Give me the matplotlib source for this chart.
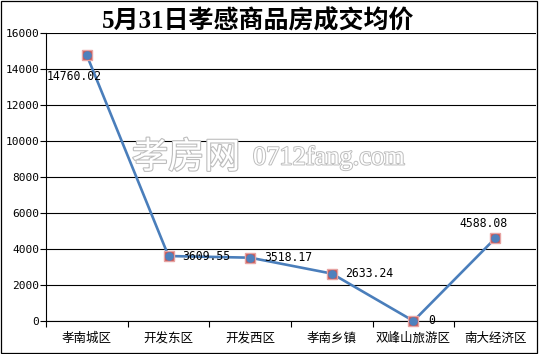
import matplotlib
matplotlib.use("Agg")
import matplotlib.pyplot as plt
from matplotlib.patches import Rectangle
import matplotlib.patheffects as pe

categories = ["孝南城区", "开发东区", "开发西区", "孝南乡镇", "双峰山旅游区", "南大经济区"]
values = [14760.02, 3609.55, 3518.17, 2633.24, 0, 4588.08]
labels = ["14760.02", "3609.55", "3518.17", "2633.24", "0", "4588.08"]
yticks = [0, 2000, 4000, 6000, 8000, 10000, 12000, 14000, 16000]
title = "5月31日孝感商品房成交均价"

W, H = 539, 354
fig = plt.figure(figsize=(W / 100, H / 100), dpi=100)
fig.patch.set_facecolor("white")

ax = fig.add_axes([46 / W, (H - 321) / H, (536 - 46) / W, (321 - 33) / H])
x = list(range(len(categories)))

ax.set_xlim(-0.5, len(categories) - 0.5)
ax.set_ylim(0, 16000)

ax.set_yticks(yticks)
ax.set_yticklabels([str(v) for v in yticks], family="DejaVu Sans Mono", fontsize=8)
ax.grid(axis="y", color="black", linewidth=0.8, zorder=1)
ax.set_axisbelow(True)

ax.set_xticks([i - 0.5 for i in x])
ax.set_xticklabels([])
ax.set_xticks(x, minor=True)
ax.set_xticklabels(categories, minor=True, family=["Noto Sans CJK SC", "DejaVu Sans"], fontsize=9)
ax.tick_params(axis="x", which="major", length=4, width=0.8, direction="out", color="black")
ax.tick_params(axis="x", which="minor", length=0, pad=8)
ax.tick_params(axis="y", length=4, width=0.8, direction="out", pad=1)

for s in ["top", "right"]:
    ax.spines[s].set_visible(False)
for s in ["left", "bottom"]:
    ax.spines[s].set_color("black")
    ax.spines[s].set_linewidth(0.8)

# watermark
ax.text(132, 196, "孝房网", transform=None, fontsize=26, color="white",
        family=["Noto Sans CJK SC", "DejaVu Sans"], ha="left", va="center", zorder=1.5,
        path_effects=[pe.withStroke(linewidth=1.6, foreground="#bdbdbd")])
ax.text(253, 196, "0712fang.com", transform=None, fontsize=19, color="white",
        family="Liberation Serif", ha="left", va="center", zorder=1.5,
        path_effects=[pe.withStroke(linewidth=1.4, foreground="#bdbdbd")])

ax.plot(x, values, color="#4A7EBB", linewidth=1.9, zorder=3, clip_on=False)
ax.plot(x, values, linestyle="none", marker="s", markersize=7.5,
        markerfacecolor="#C8504F", markeredgecolor="#E6A3A2", markeredgewidth=1.0,
        zorder=4, clip_on=False)
ax.plot(x, values, linestyle="none", marker="o", markersize=5.2,
        markerfacecolor="#4F81BD", markeredgecolor="#4F81BD", zorder=5, clip_on=False)

k = 0.72
offsets = [(-40, -21.5, "left"), (14, 0, "left"), (14, 0, "left"),
           (13, 0, "left"), (15, 0, "left"), (-12, 15, "center")]
for xi, v, lab, (dx, dy, ha) in zip(x, values, labels, offsets):
    ax.annotate(lab, (xi, v), xytext=(dx * k, dy * k), textcoords="offset points",
                ha=ha, va="center", family="DejaVu Sans Mono", fontsize=8.3,
                color="black", zorder=6, annotation_clip=False)

fig.text(258 / W, 1 - 21 / H, title, ha="center", va="center", fontsize=18,
         fontweight="bold", family=["Liberation Serif", "Noto Sans CJK SC"], color="black")

fig.add_artist(Rectangle((1 / W, (H - 352.5) / H), (536.5 - 1) / W, (352.5 - 1) / H,
                         transform=fig.transFigure, fill=False, edgecolor="black",
                         linewidth=0.9))

fig.savefig("out.png", dpi=100)
